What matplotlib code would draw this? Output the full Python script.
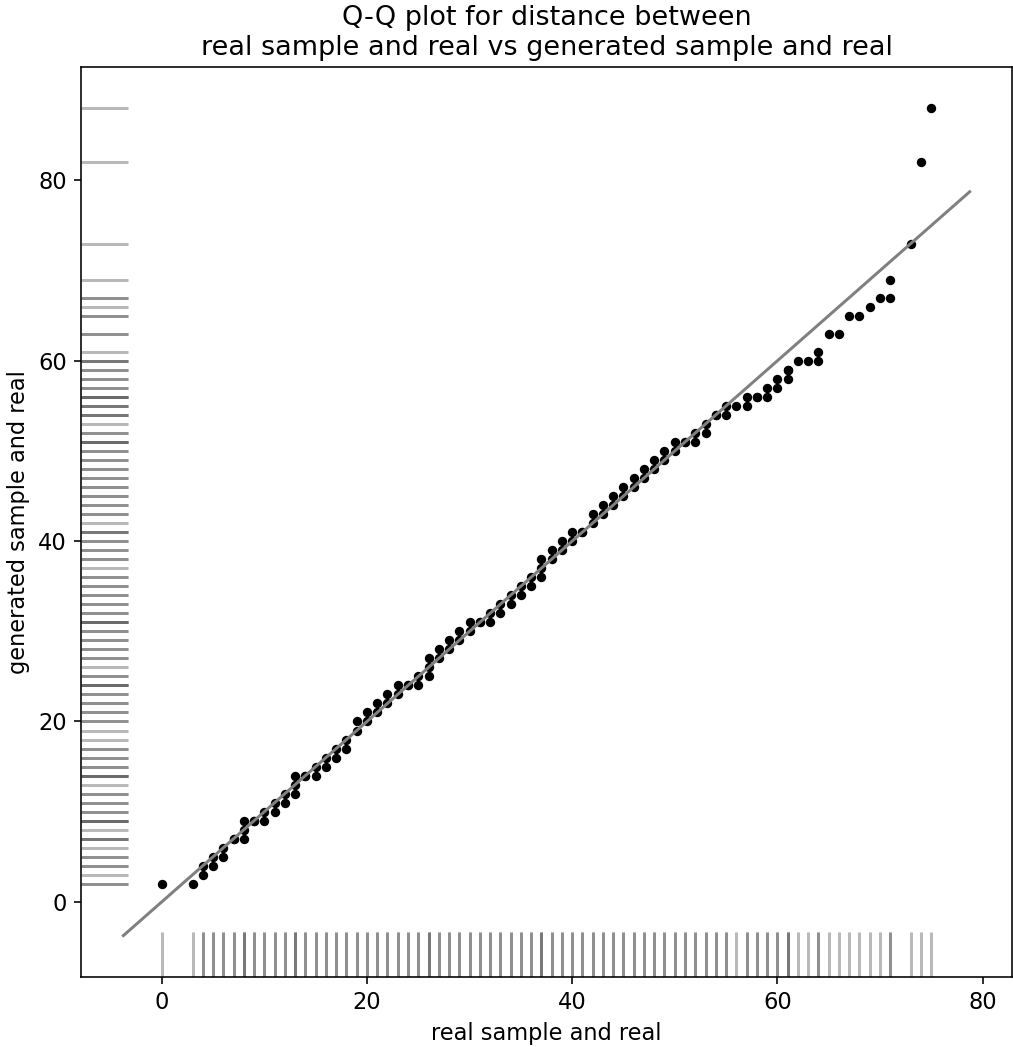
import matplotlib
matplotlib.use('Agg')
import matplotlib.pyplot as plt
from matplotlib.collections import LineCollection

# sorted distances, one entry per quantile pair
real_dist = [0, 3, 4, 4, 5, 5, 6, 6, 7, 7, 8, 8, 8, 9, 9, 10, 10, 11, 11,
             12, 12, 13, 13, 13, 14, 14, 15, 15, 16, 16, 17, 17, 18, 18,
             19, 19, 20, 20, 21, 21, 22, 22, 23, 23, 24, 24, 25, 25,
             26, 26, 26, 27, 27, 28, 28, 29, 29, 30, 30, 31, 31, 32, 32,
             33, 33, 34, 34, 35, 35, 36, 36, 37, 37, 37, 38, 38, 39, 39,
             40, 40, 41, 41, 42, 42, 43, 43, 44, 44, 45, 45, 46, 46, 47, 47,
             48, 48, 49, 49, 50, 50, 51, 51, 52, 52, 53, 53, 54, 54, 55, 55,
             56, 57, 57, 58, 58, 59, 59, 60, 60, 61, 61, 61,
             62, 63, 64, 64, 65, 66, 67, 68, 69, 70, 71, 71, 73, 74, 75]
gen_dist = [2, 2, 3, 4, 4, 5, 5, 6, 7, 7, 7, 8, 9, 9, 9, 9, 10, 10, 11,
            11, 12, 12, 13, 14, 14, 14, 14, 15, 15, 16, 16, 17, 17, 18,
            19, 20, 20, 21, 21, 22, 22, 23, 23, 24, 24, 24, 24, 25,
            25, 26, 27, 27, 28, 28, 29, 29, 30, 30, 31, 31, 31, 31, 32,
            32, 33, 33, 34, 34, 35, 35, 36, 36, 37, 38, 38, 39, 39, 40,
            40, 41, 41, 41, 42, 43, 43, 44, 44, 45, 45, 46, 46, 47, 47, 48,
            48, 49, 49, 50, 50, 51, 51, 51, 51, 52, 52, 53, 54, 54, 54, 55,
            55, 55, 56, 56, 56, 56, 57, 57, 58, 58, 59, 59,
            60, 60, 60, 61, 63, 63, 65, 65, 66, 67, 67, 69, 73, 82, 88]

title = 'Q-Q plot for distance between\nreal sample and real vs generated sample and real'
xlabel = 'real sample and real'
ylabel = 'generated sample and real'

plt.rcParams['font.size'] = 11.25

fig = plt.figure(figsize=(1013/144, 1047/144), dpi=144)
ax = fig.add_axes([81/1013, 1-977/1047, 931/1013, 910/1047])

ax.scatter(real_dist, gen_dist, s=22, color='black', linewidths=0, zorder=2)

# reference line y = x, padded by 5% of the x range
lo = min(real_dist) - 0.05*(max(real_dist) - min(real_dist))
hi = max(real_dist) + 0.05*(max(real_dist) - min(real_dist))
ax.plot([lo, hi], [lo, hi], color='gray', lw=1.5, zorder=3)

# rugs along both axes
rug_kw = dict(colors='0.35', alpha=0.42, linewidths=1.5)
bottom = LineCollection([[(v, 0), (v, 0.05)] for v in real_dist],
                        transform=ax.get_xaxis_transform(), **rug_kw)
left = LineCollection([[(0, v), (0.05, v)] for v in gen_dist],
                      transform=ax.get_yaxis_transform(), **rug_kw)
ax.add_collection(bottom, autolim=False)
ax.add_collection(left, autolim=False)
ax.autoscale_view()

ax.set_xticks([0, 20, 40, 60, 80])
ax.set_yticks([0, 20, 40, 60, 80])
ax.set_title(title, fontsize=13.5)
ax.set_xlabel(xlabel)
ax.set_ylabel(ylabel)

fig.savefig('out.png', dpi=144)
plt.close()
